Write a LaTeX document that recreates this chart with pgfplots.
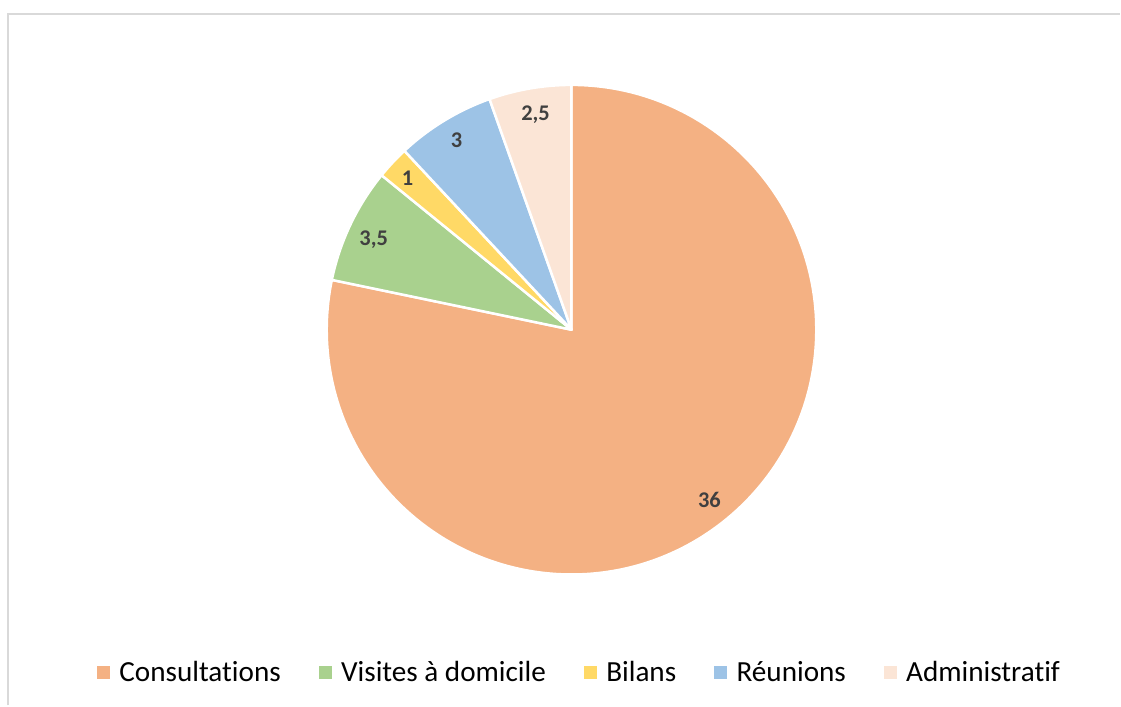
\documentclass[border=0pt]{standalone}
\usepackage{pgfplots}
\pgfplotsset{compat=1.18}
\usepackage{fontspec}
\setmainfont{Carlito}[Ligatures=NoCommon]

\definecolor{cons}{HTML}{F4B183}
\definecolor{visi}{HTML}{A9D18E}
\definecolor{bila}{HTML}{FFD966}
\definecolor{reun}{HTML}{9DC3E6}
\definecolor{admi}{HTML}{FBE5D6}
\definecolor{lbl}{HTML}{404040}
\definecolor{frame}{HTML}{D9D9D9}

% values (hours)
\def\vCons{36}
\def\vVisi{3.5}
\def\vBila{1}
\def\vReun{3}
\def\vAdmi{2.5}
\def\vTot{46}

% slice: colour, start angle, value
\newcommand{\pieslice}[3]{%
  \filldraw[fill=#1, draw=white, line width=2.5bp, line join=round]
    (axis cs:572,376) -- ++(#2:245bp)
    arc[start angle=#2, end angle={#2-#3/\vTot*360}, radius=245bp] -- cycle;
}

\begin{document}
\begin{tikzpicture}
\begin{axis}[
    width=1121bp, height=706bp,
    scale only axis,
    hide axis,
    clip=false,
    xmin=0, xmax=1121,
    ymin=0, ymax=706,
    legend columns=5,
    legend style={draw=none, fill=none,
        at={(axis cs:579,33)}, anchor=center,
        font=\fontsize{29.3}{33}\selectfont,
        nodes={inner sep=0pt},
        /tikz/every odd column/.append style={column sep=10bp},
        /tikz/every even column/.append style={column sep=38bp}},
    legend image code/.code={\fill[#1] (0bp,-6bp) rectangle (12bp,6bp);},
]
    \path (axis cs:0,0) rectangle (axis cs:1121,706);
    \draw[frame, line width=2bp] (axis cs:8.5,0) |- (axis cs:1121,692);

    \pieslice{cons}{90}{\vCons}
    \pieslice{visi}{-191.739}{\vVisi}
    \pieslice{bila}{-219.130}{\vBila}
    \pieslice{reun}{-226.957}{\vReun}
    \pieslice{admi}{-250.435}{\vAdmi}

    \begin{scope}[every node/.style={text=lbl, font=\fontsize{22.5}{24}\selectfont\bfseries}]
    \node at (axis cs:710,206) {36};
    \node at (axis cs:374,466) {3,5};
    \node at (axis cs:408,528) {1};
    \node at (axis cs:457,566) {3};
    \node at (axis cs:536,591) {2,5};
    \end{scope}

    \addlegendimage{cons}\addlegendentry{Consultations}
    \addlegendimage{visi}\addlegendentry{Visites à domicile}
    \addlegendimage{bila}\addlegendentry{Bilans}
    \addlegendimage{reun}\addlegendentry{Réunions}
    \addlegendimage{admi}\addlegendentry{Administratif}
\end{axis}
\end{tikzpicture}
\end{document}
